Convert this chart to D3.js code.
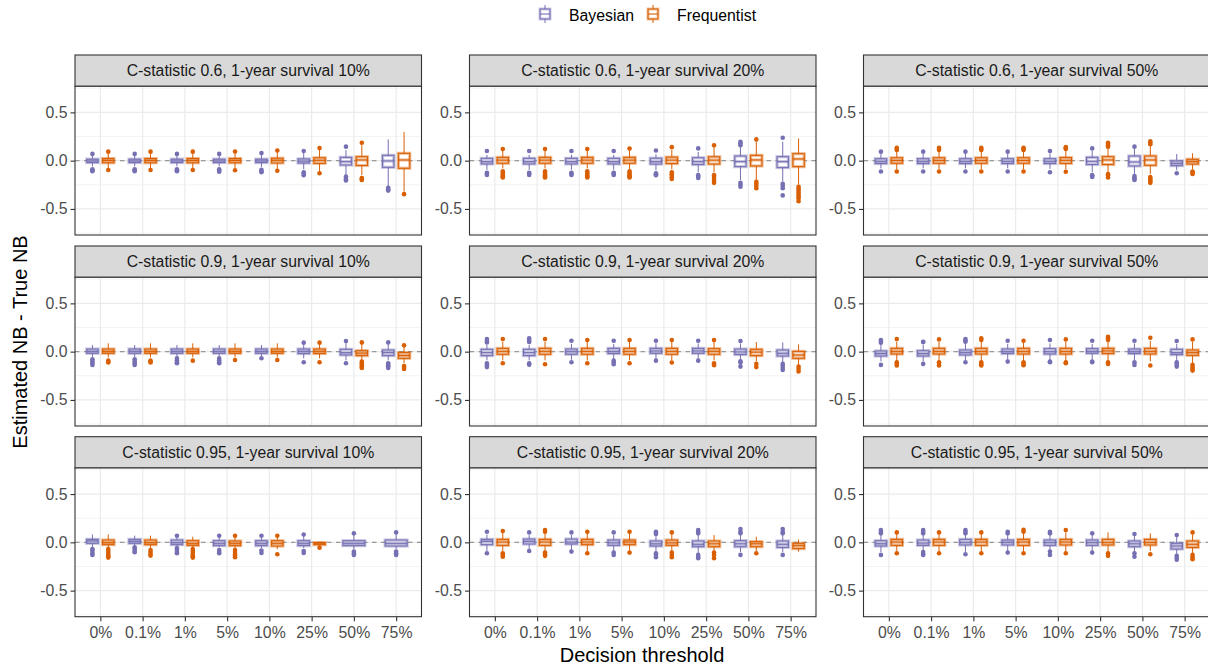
<!DOCTYPE html>
<html><head><meta charset="utf-8">
<script src="https://cdn.jsdelivr.net/npm/d3@7"></script>
<style>body{margin:0;background:#fff}svg{display:block;font-family:"Liberation Sans",Arial,sans-serif}</style>
</head><body><svg id="chart" width="1208" height="668"></svg>
<script>
// ---------- data ----------
const thresholds = ["0%","0.1%","1%","5%","10%","25%","50%","75%"];
const seriesNames = ["Bayesian","Frequentist"];
const panelTitles = [
  "C-statistic 0.6, 1-year survival 10%","C-statistic 0.6, 1-year survival 20%","C-statistic 0.6, 1-year survival 50%",
  "C-statistic 0.9, 1-year survival 10%","C-statistic 0.9, 1-year survival 20%","C-statistic 0.9, 1-year survival 50%",
  "C-statistic 0.95, 1-year survival 10%","C-statistic 0.95, 1-year survival 20%","C-statistic 0.95, 1-year survival 50%"];
const yTicks = [-0.5, 0, 0.5];
// each entry: [lower whisker, q1, median, q3, upper whisker, [outliers]]; null = no box
const bayes_c06_s10 = [
  [-0.06,-0.02,-0.003,0.015,0.055,[0.07,-0.09,-0.1,-0.11]],
  [-0.06,-0.02,-0.003,0.015,0.055,[0.07,-0.09,-0.1,-0.11]],
  [-0.06,-0.02,-0.003,0.015,0.055,[0.07,-0.09,-0.1,-0.11]],
  [-0.06,-0.02,-0.003,0.015,0.055,[0.07,-0.09,-0.105,-0.115]],
  [-0.065,-0.02,-0.003,0.015,0.06,[0.078,-0.095,-0.11,-0.12]],
  [-0.09,-0.025,-0.005,0.018,0.08,[0.1,-0.12,-0.135,-0.15]],
  [-0.15,-0.045,-0.01,0.034,0.11,[0.145,-0.165,-0.18,-0.195,-0.205]],
  [-0.27,-0.069,-0.003,0.055,0.22,[-0.28,-0.295,-0.31]]];
const freq_c06_s10 = [
  [-0.08,-0.022,0.002,0.022,0.08,[0.093,-0.097]],
  [-0.08,-0.022,0.002,0.022,0.08,[0.093,-0.097]],
  [-0.08,-0.022,0.002,0.022,0.08,[0.093,-0.097]],
  [-0.08,-0.022,0.002,0.022,0.08,[0.095,-0.1]],
  [-0.085,-0.024,0.003,0.025,0.09,[0.105,-0.105]],
  [-0.11,-0.028,0.003,0.03,0.11,[0.13,-0.13]],
  [-0.15,-0.05,0.007,0.041,0.16,[0.186,-0.18,-0.19,-0.2]],
  [-0.32,-0.079,0.007,0.076,0.296,[-0.347]]];
const bayes_c06_s20 = [
  [-0.095,-0.034,-0.01,0.024,0.06,[0.1,-0.125,-0.135,-0.148]],
  [-0.095,-0.034,-0.01,0.024,0.06,[0.1,-0.125,-0.135,-0.148]],
  [-0.095,-0.034,-0.01,0.024,0.06,[0.1,-0.125,-0.135,-0.148]],
  [-0.095,-0.034,-0.01,0.024,0.06,[0.1,-0.125,-0.135,-0.148]],
  [-0.1,-0.035,-0.01,0.025,0.065,[0.105,-0.13,-0.14,-0.15]],
  [-0.12,-0.04,-0.01,0.03,0.09,[0.127,-0.15,-0.165,-0.18]],
  [-0.2,-0.062,-0.01,0.048,0.145,[0.16,0.18,0.196,-0.23,-0.25,-0.27]],
  [-0.216,-0.072,-0.01,0.041,0.196,[0.237,-0.24,-0.26,-0.285,-0.36]]];
const freq_c06_s20 = [
  [-0.08,-0.027,0.005,0.034,0.1,[0.12,-0.11,-0.13,-0.15,-0.165,-0.175]],
  [-0.08,-0.027,0.005,0.034,0.1,[0.12,-0.11,-0.13,-0.15,-0.165,-0.175]],
  [-0.08,-0.027,0.005,0.034,0.1,[0.12,-0.11,-0.13,-0.15,-0.165,-0.175]],
  [-0.085,-0.027,0.005,0.034,0.1,[0.125,-0.11,-0.13,-0.15,-0.165,-0.175]],
  [-0.09,-0.03,0.005,0.036,0.11,[0.14,-0.12,-0.14,-0.16,-0.175,-0.19]],
  [-0.12,-0.035,0.005,0.04,0.14,[0.16,-0.15,-0.17,-0.19,-0.21,-0.23]],
  [-0.2,-0.055,0.007,0.055,0.2,[0.22,-0.22,-0.24,-0.26,-0.285]],
  [-0.25,-0.062,0.017,0.072,0.23,[-0.27,-0.29,-0.31,-0.33,-0.35,-0.37,-0.39,-0.42]]];
const bayes_c06_s50 = [
  [-0.08,-0.03,-0.007,0.02,0.07,[0.093,-0.113]],
  [-0.08,-0.03,-0.007,0.02,0.07,[0.093,-0.113]],
  [-0.08,-0.03,-0.007,0.02,0.07,[0.093,-0.113]],
  [-0.08,-0.03,-0.007,0.02,0.07,[0.093,-0.113]],
  [-0.085,-0.03,-0.007,0.02,0.075,[0.1,-0.12]],
  [-0.12,-0.04,-0.007,0.034,0.1,[0.127,-0.15,-0.16,-0.17]],
  [-0.14,-0.055,-0.014,0.048,0.12,[0.145,-0.16,-0.175,-0.19,-0.2]],
  [-0.1,-0.052,-0.028,-0.003,0.069,[-0.13]]];
const freq_c06_s50 = [
  [-0.09,-0.027,0.002,0.03,0.095,[0.11,0.12,0.134,-0.113]],
  [-0.09,-0.027,0.002,0.03,0.095,[0.11,0.12,0.134,-0.113]],
  [-0.09,-0.027,0.002,0.03,0.095,[0.11,0.12,0.134,-0.113]],
  [-0.09,-0.027,0.002,0.03,0.095,[0.11,0.12,0.134,-0.113]],
  [-0.09,-0.028,0.003,0.032,0.1,[0.12,0.13,0.14,-0.115]],
  [-0.12,-0.04,0.007,0.041,0.13,[0.145,0.16,0.175,0.186,-0.14,-0.155,-0.175]],
  [-0.14,-0.048,0.007,0.048,0.15,[0.17,0.185,0.2,-0.17,-0.185,-0.2,-0.215,-0.23]],
  [-0.09,-0.035,-0.01,0.014,0.076,[-0.113,-0.125,-0.137]]];
const bayes_c09_s10 = [
  [-0.055,-0.017,0.003,0.027,0.069,[-0.08,-0.1,-0.12,-0.137]],
  [-0.055,-0.017,0.003,0.027,0.069,[-0.08,-0.1,-0.12,-0.137]],
  [-0.055,-0.017,0.003,0.027,0.069,[-0.07,-0.09,-0.11,-0.12]],
  [-0.055,-0.017,0.003,0.027,0.069,[-0.07,-0.09,-0.11,-0.12]],
  [-0.05,-0.017,0.003,0.027,0.069,[-0.069]],
  [-0.07,-0.02,0.003,0.027,0.075,[0.093,-0.11]],
  [-0.09,-0.034,-0.01,0.024,0.09,[0.11,-0.12]],
  [-0.09,-0.041,-0.01,0.017,0.08,[0.096,-0.12,-0.14,-0.155,-0.17]]];
const freq_c09_s10 = [
  [-0.06,-0.017,0.003,0.027,0.086,[-0.093,-0.105,-0.113]],
  [-0.06,-0.017,0.003,0.027,0.086,[-0.093,-0.105,-0.113]],
  [-0.06,-0.017,0.003,0.027,0.086,[-0.093]],
  [-0.06,-0.017,0.003,0.027,0.086,[-0.086]],
  [-0.06,-0.017,0.003,0.027,0.086,[-0.086]],
  [-0.07,-0.02,0.003,0.027,0.08,[0.093,-0.11]],
  [-0.09,-0.041,-0.015,0.01,0.08,[0.096,-0.103,-0.12,-0.14,-0.16,-0.17]],
  [-0.12,-0.069,-0.04,-0.01,0.05,[0.065,-0.148,-0.16,-0.179]]];
const bayes_c09_s20 = [
  [-0.09,-0.041,-0.01,0.024,0.07,[0.096,0.11,0.13,-0.12,-0.14,-0.16]],
  [-0.09,-0.041,-0.01,0.024,0.07,[0.1,0.115,0.137,-0.12,-0.135]],
  [-0.085,-0.027,0.0,0.027,0.08,[0.113,-0.11]],
  [-0.08,-0.02,0.003,0.034,0.08,[0.113,-0.093,-0.11,-0.13]],
  [-0.075,-0.017,0.007,0.034,0.085,[0.113,-0.093]],
  [-0.075,-0.017,0.007,0.034,0.085,[0.113,-0.093]],
  [-0.09,-0.03,-0.003,0.027,0.085,[0.11,-0.1,-0.115,-0.155]],
  [-0.11,-0.045,-0.017,0.017,0.096,[-0.127,-0.145,-0.17,-0.19]]];
const freq_c09_s20 = [
  [-0.09,-0.027,0.003,0.034,0.1,[0.13,-0.12]],
  [-0.09,-0.027,0.003,0.034,0.1,[0.13,-0.13]],
  [-0.09,-0.027,0.003,0.034,0.1,[0.12,-0.12]],
  [-0.09,-0.027,0.003,0.034,0.1,[0.12,-0.12]],
  [-0.09,-0.027,0.003,0.034,0.1,[0.12,-0.113]],
  [-0.09,-0.027,0.003,0.031,0.1,[0.12,-0.12,-0.14]],
  [-0.1,-0.041,-0.005,0.024,0.1,[-0.127,-0.16]],
  [-0.14,-0.069,-0.035,0.003,0.076,[-0.155,-0.18,-0.206]]];
const bayes_c09_s50 = [
  [-0.1,-0.045,-0.02,0.007,0.075,[0.093,0.11,0.12,-0.137]],
  [-0.1,-0.045,-0.02,0.01,0.075,[0.1,0.103,-0.127]],
  [-0.09,-0.034,-0.01,0.017,0.08,[0.103,0.113,0.13,-0.11]],
  [-0.09,-0.02,0.0,0.027,0.08,[0.113,-0.103]],
  [-0.09,-0.024,0.0,0.031,0.085,[0.12,-0.103,-0.11]],
  [-0.085,-0.017,0.003,0.031,0.08,[0.113,-0.103,-0.11]],
  [-0.09,-0.02,0.0,0.027,0.085,[0.113,-0.11,-0.137]],
  [-0.1,-0.031,-0.01,0.024,0.08,[0.11,-0.11,-0.13,-0.155]]];
const freq_c09_s50 = [
  [-0.1,-0.024,0.003,0.034,0.1,[0.13,-0.11,-0.127,-0.144]],
  [-0.1,-0.024,0.003,0.034,0.1,[0.127,-0.11,-0.127,-0.144]],
  [-0.1,-0.024,0.003,0.034,0.1,[0.12,0.137,-0.11,-0.13,-0.144]],
  [-0.1,-0.024,0.003,0.034,0.1,[0.113,-0.11,-0.127,-0.14]],
  [-0.1,-0.024,0.003,0.034,0.1,[0.127,-0.11,-0.12]],
  [-0.09,-0.02,0.007,0.034,0.1,[0.12,0.14,0.155,-0.11,-0.127]],
  [-0.1,-0.024,0.003,0.034,0.11,[0.144,-0.144]],
  [-0.12,-0.038,-0.01,0.017,0.1,[0.127,-0.137,-0.16,-0.18,-0.196]]];
const bayes_c095_s10 = [
  [-0.05,-0.01,0.014,0.031,0.082,[-0.069,-0.08,-0.1,-0.12,-0.13]],
  [-0.045,-0.01,0.01,0.031,0.069,[-0.052,-0.07,-0.09,-0.103]],
  [-0.05,-0.024,-0.003,0.024,0.06,[0.069,-0.06,-0.08,-0.1,-0.113]],
  [-0.05,-0.034,-0.01,0.017,0.06,[0.069,-0.08,-0.1,-0.113]],
  [-0.06,-0.034,-0.01,0.017,0.06,[0.069,-0.085,-0.11]],
  [-0.06,-0.034,-0.01,0.017,0.065,[0.082,-0.09,-0.11]],
  [-0.07,-0.034,-0.01,0.017,0.075,[0.093,-0.096,-0.113,-0.13]],
  [-0.07,-0.038,-0.01,0.024,0.085,[0.103,-0.096,-0.113,-0.13]]];
const freq_c095_s10 = [
  [-0.06,-0.024,-0.003,0.024,0.082,[-0.069,-0.09,-0.11,-0.13,-0.145,-0.158]],
  [-0.065,-0.024,-0.003,0.024,0.069,[-0.08,-0.1,-0.12,-0.137]],
  [-0.065,-0.031,-0.01,0.017,0.058,[-0.069,-0.09,-0.11,-0.13,-0.145,-0.158]],
  [-0.07,-0.034,-0.01,0.014,0.055,[0.069,-0.08,-0.1,-0.12,-0.137,-0.155]],
  [-0.07,-0.038,-0.01,0.017,0.055,[0.069,-0.124]],
  [-0.038,-0.024,-0.01,-0.003,0.0,[-0.055]],
  null,
  null];
const bayes_c095_s20 = [
  [-0.09,-0.024,0.01,0.031,0.08,[0.11,-0.113]],
  [-0.08,-0.017,0.01,0.034,0.075,[0.103,-0.09]],
  [-0.08,-0.017,0.003,0.034,0.075,[0.103,-0.096]],
  [-0.09,-0.031,-0.005,0.024,0.075,[0.103,-0.106,-0.13]],
  [-0.1,-0.038,-0.015,0.014,0.075,[0.086,0.1,0.11,-0.113,-0.13,-0.155]],
  [-0.11,-0.045,-0.02,0.014,0.085,[0.093,0.11,0.127,-0.13,-0.15,-0.165]],
  [-0.1,-0.045,-0.015,0.017,0.09,[0.093,0.11,0.137,-0.13]],
  [-0.1,-0.052,-0.02,0.014,0.09,[0.093,0.11,0.137,-0.13]]];
const freq_c095_s20 = [
  [-0.09,-0.031,0.003,0.031,0.1,[0.117,-0.113,-0.13,-0.148]],
  [-0.09,-0.031,0.003,0.031,0.1,[0.11,0.127,-0.106,-0.125,-0.14]],
  [-0.09,-0.024,0.003,0.031,0.095,[0.11,-0.113]],
  [-0.085,-0.024,0.003,0.024,0.095,[0.11,-0.106]],
  [-0.09,-0.031,-0.005,0.024,0.095,[0.103,-0.106,-0.13,-0.155]],
  [-0.1,-0.045,-0.015,0.014,0.075,[-0.106,-0.13,-0.165]],
  [-0.09,-0.045,-0.015,0.007,0.058,[-0.113]],
  [-0.096,-0.065,-0.035,-0.01,0.03,[]]];
const bayes_c095_s50 = [
  [-0.1,-0.038,-0.014,0.017,0.08,[0.093,0.11,0.127,-0.13]],
  [-0.1,-0.031,-0.007,0.024,0.08,[0.093,0.11,0.127,-0.1,-0.12,-0.13]],
  [-0.1,-0.027,0.0,0.031,0.08,[0.093,0.11,0.127,-0.124]],
  [-0.09,-0.027,0.0,0.024,0.085,[0.093,0.11,-0.106]],
  [-0.09,-0.031,-0.003,0.024,0.08,[0.093,0.11,-0.096,-0.13]],
  [-0.09,-0.031,-0.003,0.024,0.075,[0.093,-0.106]],
  [-0.1,-0.045,-0.015,0.014,0.075,[0.086,-0.113,-0.148]],
  [-0.12,-0.069,-0.038,-0.01,0.065,[0.076,-0.14,-0.16,-0.18]]];
const freq_c095_s50 = [
  [-0.09,-0.031,0.003,0.031,0.09,[0.103,-0.113]],
  [-0.09,-0.031,0.003,0.031,0.09,[0.103,-0.113]],
  [-0.09,-0.031,0.003,0.031,0.09,[0.103,-0.113]],
  [-0.09,-0.031,0.003,0.031,0.1,[0.11,0.13,-0.113]],
  [-0.09,-0.027,0.003,0.031,0.1,[0.127,-0.113]],
  [-0.1,-0.027,0.0,0.031,0.103,[-0.113,-0.14]],
  [-0.09,-0.027,0.0,0.031,0.093,[-0.124]],
  [-0.11,-0.052,-0.02,0.014,0.085,[0.103,-0.13,-0.155,-0.175]]];

const panelBayes = [bayes_c06_s10,bayes_c06_s20,bayes_c06_s50,bayes_c09_s10,bayes_c09_s20,bayes_c09_s50,bayes_c095_s10,bayes_c095_s20,bayes_c095_s50];
const panelFreq  = [freq_c06_s10,freq_c06_s20,freq_c06_s50,freq_c09_s10,freq_c09_s20,freq_c09_s50,freq_c095_s10,freq_c095_s20,freq_c095_s50];

// ---------- layout ----------
const colors = {Bayesian:"#7570b3", Frequentist:"#d95f02"};
const colX = [75, 469.5, 863.5];
const stripTop = [55, 246, 436.7];
const panelW = 346.5, stripH = 31.3, panelH = 148.7;
const FS = 15.8;

const svg = d3.select("#chart");
svg.append("rect").attr("width",1208).attr("height",668).attr("fill","#fff");

const x = d3.scalePoint().domain(thresholds).range([0, panelW]).padding(0.6);
const step = x.step();
const y = d3.scaleLinear().domain([-0.77, 0.77]).range([panelH, 0]);

function drawBox(g, cx, w, s, color) {
  const [lo,q1,md,q3,hi,outs] = s;
  const bg = g.append("g");
  bg.append("line").attr("x1",cx).attr("x2",cx).attr("y1",y(hi)).attr("y2",y(q3))
    .attr("stroke",color).attr("stroke-width",1);
  bg.append("line").attr("x1",cx).attr("x2",cx).attr("y1",y(q1)).attr("y2",y(lo))
    .attr("stroke",color).attr("stroke-width",1);
  const top = y(q3), h = Math.max(y(q1)-y(q3), 0.5);
  bg.append("rect").attr("x",cx-w/2).attr("y",top).attr("width",w).attr("height",h)
    .attr("fill","#fff").attr("stroke",color).attr("stroke-opacity",0.4).attr("stroke-width",3.2);
  bg.append("rect").attr("x",cx-w/2).attr("y",top).attr("width",w).attr("height",h)
    .attr("fill","none").attr("stroke",color).attr("stroke-width",1.1);
  bg.append("line").attr("x1",cx-w/2).attr("x2",cx+w/2).attr("y1",y(md)).attr("y2",y(md))
    .attr("stroke",color).attr("stroke-opacity",0.4).attr("stroke-width",3.2);
  bg.append("line").attr("x1",cx-w/2).attr("x2",cx+w/2).attr("y1",y(md)).attr("y2",y(md))
    .attr("stroke",color).attr("stroke-width",1.1);
  bg.selectAll("circle.o").data(outs).join("circle").attr("class","o")
    .attr("cx",cx).attr("cy",d=>y(d)).attr("r",2.3).attr("fill",color);
}

panelTitles.forEach((title, i) => {
  const col = i % 3, row = Math.floor(i / 3);
  const g = svg.append("g").attr("transform",`translate(${colX[col]},${stripTop[row]})`);
  g.append("rect").attr("width",panelW).attr("height",stripH).attr("fill","#d9d9d9")
    .attr("stroke","#333").attr("stroke-width",1.1);
  g.append("text").attr("x",panelW/2).attr("y",stripH/2).attr("dy","0.36em").attr("text-anchor","middle")
    .attr("font-size",FS).attr("fill","#1a1a1a").text(title);
  const p = g.append("g").attr("transform",`translate(0,${stripH})`);
  p.append("rect").attr("width",panelW).attr("height",panelH).attr("fill","#fff");
  [-0.75,-0.25,0.25,0.75].forEach(v => p.append("line").attr("x1",0).attr("x2",panelW)
    .attr("y1",y(v)).attr("y2",y(v)).attr("stroke","#ebebeb").attr("stroke-width",0.6));
  yTicks.forEach(v => p.append("line").attr("x1",0).attr("x2",panelW)
    .attr("y1",y(v)).attr("y2",y(v)).attr("stroke","#ebebeb").attr("stroke-width",1.2));
  thresholds.forEach(t => p.append("line").attr("x1",x(t)).attr("x2",x(t))
    .attr("y1",0).attr("y2",panelH).attr("stroke","#ebebeb").attr("stroke-width",1.2));
  p.append("line").attr("x1",0).attr("x2",panelW).attr("y1",y(0)).attr("y2",y(0))
    .attr("stroke","#999").attr("stroke-width",1.1).attr("stroke-dasharray","4.5,4.5");
  const B = panelBayes[i], F = panelFreq[i];
  thresholds.forEach((t, k) => {
    const cx = x(t);
    if (B[k] && F[k]) {
      drawBox(p, cx - 0.1875*step, 0.27*step, B[k], colors.Bayesian);
      drawBox(p, cx + 0.1875*step, 0.27*step, F[k], colors.Frequentist);
    } else if (B[k]) {
      drawBox(p, cx, 0.52*step, B[k], colors.Bayesian);
    } else if (F[k]) {
      drawBox(p, cx, 0.52*step, F[k], colors.Frequentist);
    }
  });
  p.append("rect").attr("width",panelW).attr("height",panelH).attr("fill","none")
    .attr("stroke","#333").attr("stroke-width",1.1);
  const ya = p.append("g").call(d3.axisLeft(y).tickValues(yTicks).tickSize(4.5).tickPadding(3)
    .tickFormat(d => d.toFixed(1)));
  ya.select(".domain").remove();
  ya.selectAll(".tick line").attr("stroke","#333").attr("stroke-width",1.1);
  ya.selectAll(".tick text").attr("font-size",FS).attr("fill","#4d4d4d").attr("font-family",null);
  if (row === 2) {
    const xa = p.append("g").attr("transform",`translate(0,${panelH})`)
      .call(d3.axisBottom(x).tickSize(4.5).tickPadding(5.5));
    xa.select(".domain").remove();
    xa.selectAll(".tick line").attr("stroke","#333").attr("stroke-width",1.1);
    xa.selectAll(".tick text").attr("font-size",FS).attr("fill","#4d4d4d").attr("font-family",null);
  }
});

// axis titles
svg.append("text").attr("x",642).attr("y",662).attr("text-anchor","middle")
  .attr("font-size",20).attr("fill","#000").text("Decision threshold");
svg.append("text").attr("transform","translate(27,342) rotate(-90)").attr("text-anchor","middle")
  .attr("font-size",20).attr("fill","#000").text("Estimated NB - True NB");

// legend
const legX = [545, 653];
seriesNames.forEach((s, i) => {
  const c = colors[s], kx = legX[i];
  const lg = svg.append("g");
  lg.append("line").attr("x1",kx).attr("x2",kx).attr("y1",5).attr("y2",23).attr("stroke",c).attr("stroke-width",1);
  lg.append("rect").attr("x",kx-5).attr("y",9).attr("width",10).attr("height",10)
    .attr("fill","#fff").attr("stroke",c).attr("stroke-opacity",0.35).attr("stroke-width",3);
  lg.append("rect").attr("x",kx-5).attr("y",9).attr("width",10).attr("height",10)
    .attr("fill","none").attr("stroke",c).attr("stroke-width",1.1);
  lg.append("line").attr("x1",kx-5).attr("x2",kx+5).attr("y1",14).attr("y2",14).attr("stroke",c).attr("stroke-width",1.1);
  lg.append("text").attr("x",kx+24).attr("y",21).attr("font-size",FS).attr("fill","#000").text(s);
});
</script></body></html>
